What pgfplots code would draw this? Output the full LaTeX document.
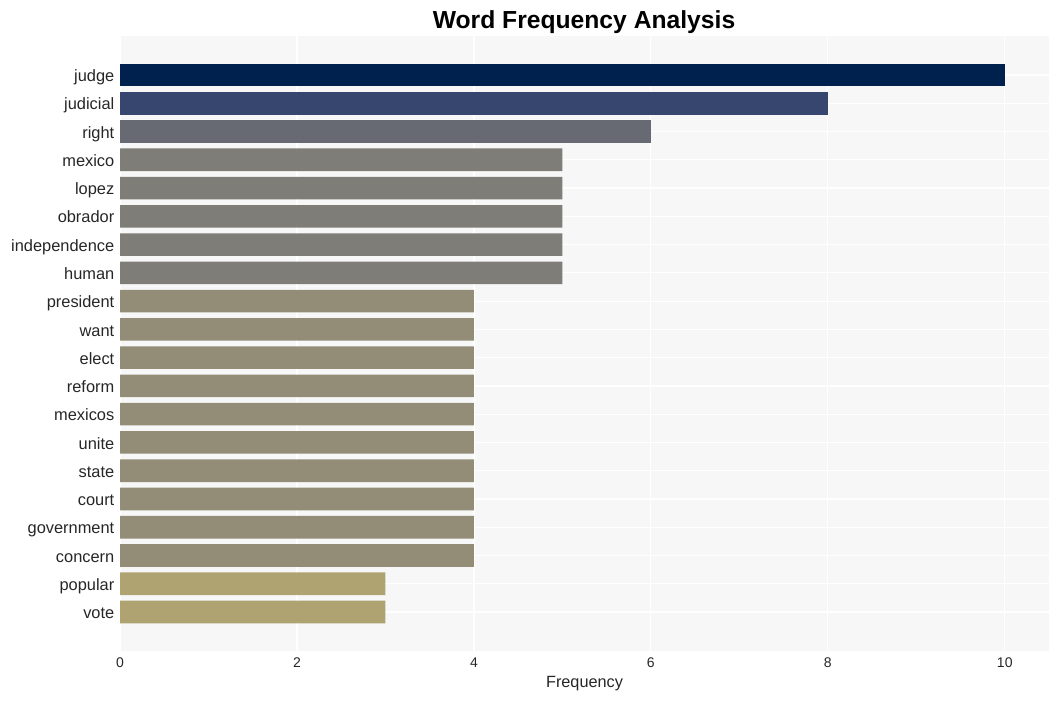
\documentclass[border=0pt]{standalone}
\usepackage{fontspec}
\setmainfont{Liberation Sans}
\usepackage{pgfplots}
\pgfplotsset{compat=1.18}

\definecolor{bg}{HTML}{F7F7F7}
\definecolor{cA}{HTML}{00214D}
\definecolor{cB}{HTML}{36466E}
\definecolor{cC}{HTML}{676A72}
\definecolor{cD}{HTML}{7F7D78}
\definecolor{cE}{HTML}{938D77}
\definecolor{cF}{HTML}{B0A372}
\definecolor{txt}{HTML}{262626}

\begin{document}
\begin{tikzpicture}
% fixed page: 1059 x 701 px at 0.75pt per px
\useasboundingbox (0,0) rectangle (794.25pt,525.75pt);
\begin{axis}[
    at={(90pt,37.5pt)}, anchor=south west,
    scale only axis,
    width=696.75pt, height=461.25pt,
    xbar, bar width=0.8, bar shift=0pt,
    y dir=reverse,
    xmin=0, xmax=10.5,
    ymin=-1.38, ymax=20.38,
    xtick={0,2,4,6,8,10},
    ytick={0,...,19},
    yticklabels={judge,judicial,right,mexico,lopez,obrador,independence,human,
      president,want,elect,reform,mexicos,unite,state,court,government,concern,
      popular,vote},
    major tick length=0pt,
    axis line style={draw=none},
    axis background/.style={fill=bg},
    grid=major,
    major grid style={white, line width=0.9pt},
    /pgf/number format/assume math mode=true,
    xticklabel style={font=\fontsize{10.5}{12}\selectfont, text=txt, yshift=-1.5pt},
    yticklabel style={font=\fontsize{12.3}{14}\selectfont, text=txt,
      text height=1.55ex, text depth=0.35ex, xshift=-0.75pt, yshift=-1.8pt},
    xlabel={Frequency},
    xlabel style={at={(axis description cs:0.5,0)}, anchor=center, yshift=-24.5pt,
      font=\fontsize{12.2}{14}\selectfont, text=txt},
]
\addplot[fill=cA, draw=none] coordinates {(10,0)};
\addplot[fill=cB, draw=none] coordinates {(8,1)};
\addplot[fill=cC, draw=none] coordinates {(6,2)};
\addplot[fill=cD, draw=none] coordinates {(5,3) (5,4) (5,5) (5,6) (5,7)};
\addplot[fill=cE, draw=none] coordinates {(4,8) (4,9) (4,10) (4,11) (4,12) (4,13) (4,14) (4,15) (4,16) (4,17)};
\addplot[fill=cF, draw=none] coordinates {(3,18) (3,19)};
\end{axis}
\node[font=\bfseries\fontsize{18.5}{22}\selectfont, text=black] at (438pt,509pt) {Word Frequency Analysis};
\end{tikzpicture}
\end{document}
